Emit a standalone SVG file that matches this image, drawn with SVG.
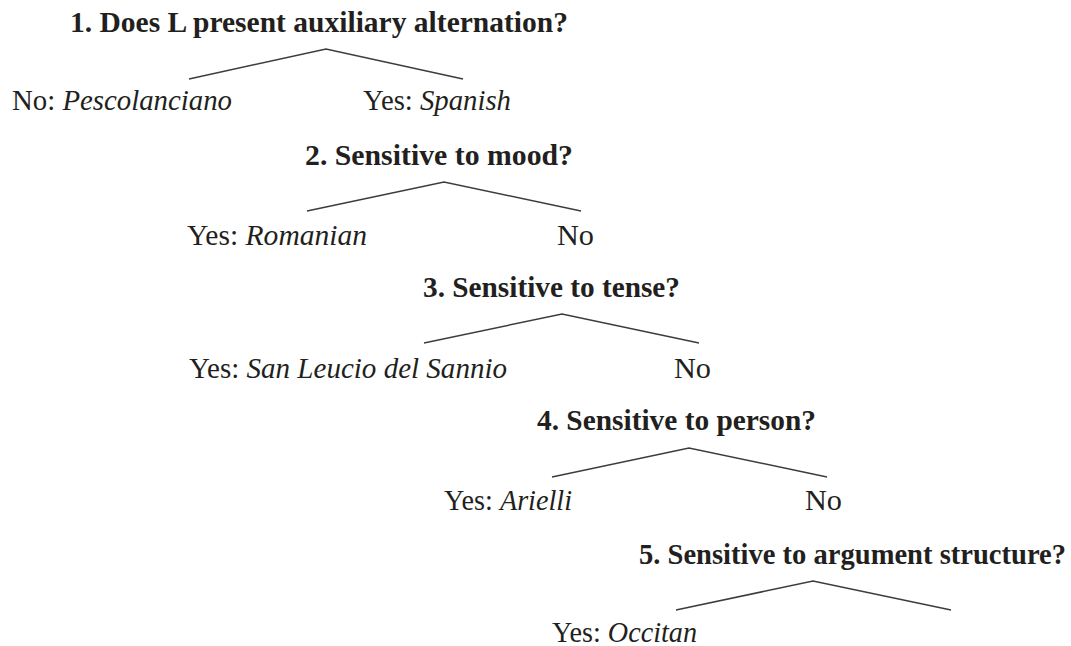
<svg xmlns="http://www.w3.org/2000/svg" width="1071" height="646" viewBox="0 0 1071 646">
<style>
text{font-family:"Liberation Serif","Times New Roman",serif;font-size:29px;fill:#231f20}
.q{font-weight:bold}
.i{font-style:italic}
.edge{fill:none;stroke:#3c3c3c;stroke-width:1.5;stroke-linejoin:miter}
</style>
<rect width="1071" height="646" fill="#ffffff"/>
<g id="connectors">
<polyline class="edge" points="189,79 326,49 463,79"/>
<polyline class="edge" points="307,211 444,182 581,211"/>
<polyline class="edge" points="424,343 562,314 699,343"/>
<polyline class="edge" points="552,477 689,448 827,477"/>
<polyline class="edge" points="676,610 813,581 951,610"/>
</g>
<g id="q1"><text class="q" x="70" y="32" textLength="498" lengthAdjust="spacingAndGlyphs">1. Does L present auxiliary alternation?</text></g>
<g id="a1-no"><text x="12" y="110" textLength="220" lengthAdjust="spacingAndGlyphs">No: <tspan class="i">Pescolanciano</tspan></text></g>
<g id="a1-yes"><text x="363" y="110" textLength="148" lengthAdjust="spacingAndGlyphs">Yes: <tspan class="i">Spanish</tspan></text></g>
<g id="q2"><text class="q" x="305" y="165" textLength="268" lengthAdjust="spacingAndGlyphs">2. Sensitive to mood?</text></g>
<g id="a2-yes"><text x="187" y="245" textLength="180" lengthAdjust="spacingAndGlyphs">Yes: <tspan class="i">Romanian</tspan></text></g>
<g id="a2-no"><text x="557" y="245" textLength="37" lengthAdjust="spacingAndGlyphs">No</text></g>
<g id="q3"><text class="q" x="423" y="297" textLength="257" lengthAdjust="spacingAndGlyphs">3. Sensitive to tense?</text></g>
<g id="a3-yes"><text x="189" y="378" textLength="318" lengthAdjust="spacingAndGlyphs">Yes: <tspan class="i">San Leucio del Sannio</tspan></text></g>
<g id="a3-no"><text x="674" y="378" textLength="37" lengthAdjust="spacingAndGlyphs">No</text></g>
<g id="q4"><text class="q" x="537" y="430" textLength="279" lengthAdjust="spacingAndGlyphs">4. Sensitive to person?</text></g>
<g id="a4-yes"><text x="444" y="510" textLength="128" lengthAdjust="spacingAndGlyphs">Yes: <tspan class="i">Arielli</tspan></text></g>
<g id="a4-no"><text x="805" y="510" textLength="37" lengthAdjust="spacingAndGlyphs">No</text></g>
<g id="q5"><text class="q" x="639" y="564" textLength="427" lengthAdjust="spacingAndGlyphs">5. Sensitive to argument structure?</text></g>
<g id="a5-yes"><text x="552" y="642" textLength="145" lengthAdjust="spacingAndGlyphs">Yes: <tspan class="i">Occitan</tspan></text></g>
</svg>
